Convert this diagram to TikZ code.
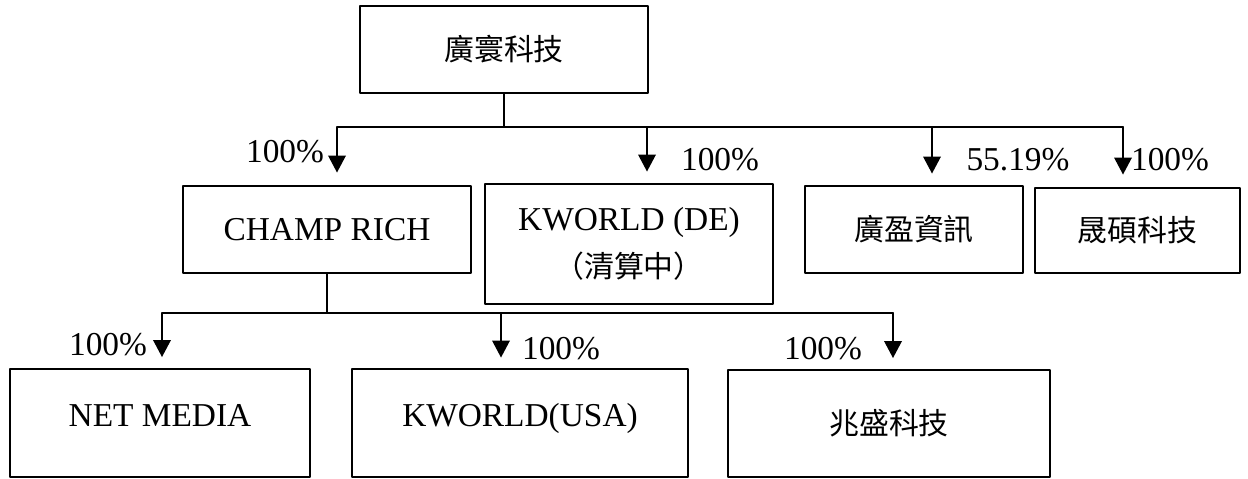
\documentclass[tikz,border=0pt]{standalone}
\usepackage{fontspec}
\setmainfont{Liberation Serif}
\newfontfamily\cjk{Noto Sans CJK TC}
\usetikzlibrary{arrows.meta}
\begin{document}
\begin{tikzpicture}[x=0.02cm,y=-0.02cm,line join=round,line cap=round,line width=1.1pt,
  font=\fontsize{19}{27}\selectfont,>={Triangle[width=0.35cm,length=0.34cm]},
  hop/.style={draw,inner sep=0pt,align=center},
  zh/.style={font=\cjk\fontsize{17}{27}\selectfont},
  own/.style={->,shorten >=#1}]
\useasboundingbox (0,0) rectangle (1248,478);
%% cac hop
\node[hop,zh,minimum width=5.76cm,minimum height=1.74cm] (hq) at (504,49.5) {廣寰科技};
\node[hop,minimum width=5.76cm,minimum height=1.74cm] (cr) at (327,229.5) {CHAMP RICH};
\node[hop,minimum width=5.76cm,minimum height=2.40cm] (de) at (629,244) {KWORLD (DE)\\{\cjk\fontsize{17}{27}\selectfont （清算中）}};
\node[hop,zh,minimum width=4.36cm,minimum height=1.74cm] (gy) at (914,229.5) {廣盈資訊};
\node[hop,zh,minimum width=4.10cm,minimum height=1.70cm] (ss) at (1137.5,230.5) {晟碩科技};
\node[hop,text depth=9pt,minimum width=6.00cm,minimum height=2.16cm] (nm) at (160,423) {NET MEDIA};
\node[hop,text depth=9pt,minimum width=6.72cm,minimum height=2.16cm] (us) at (520,423) {KWORLD(USA)};
\node[hop,zh,minimum width=6.44cm,minimum height=2.14cm] (zs) at (889,423.5) {兆盛科技};
%% duong noi tang 1
\coordinate (t1) at (337,127);
\coordinate (t2) at (647,127);
\coordinate (t3) at (932,127);
\coordinate (t4) at (1123,127);
\draw (hq.south) -- (hq.south |- t1) (t1) -- (t4);
\draw[own=0.25cm] (t1) -- (t1 |- cr.north);
\draw[own=0.23cm] (t2) -- (t2 |- de.north);
\draw[own=0.23cm] (t3) -- (t3 |- gy.north);
\draw[own=0.25cm] (t4) -- (t4 |- ss.north);
%% duong noi tang 2
\coordinate (c1) at (162,313);
\coordinate (c2) at (501,313);
\coordinate (c3) at (893,313);
\draw (cr.south) -- (cr.south |- c1) (c1) -- (c3);
\draw[own=0.22cm] (c1) -- (c1 |- nm.north);
\draw[own=0.21cm] (c2) -- (c2 |- us.north);
\draw[own=0.22cm] (c3) -- (c3 |- zs.north);
%% ti le
\node (p1) at (285,152) {100\%};
\node (p2) at (720,160) {100\%};
\node (p3) at (1018,160) {55.19\%};
\node (p4) at (1170,160) {100\%};
\node (p5) at (108,345) {100\%};
\node (p6) at (561,349) {100\%};
\node (p7) at (823,349) {100\%};
\end{tikzpicture}
\end{document}
